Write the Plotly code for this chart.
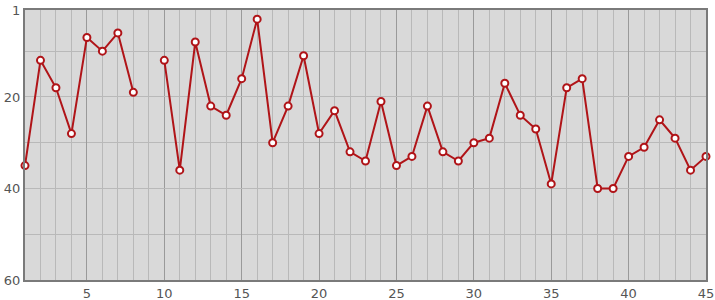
import plotly.graph_objects as go

x_vals = list(range(1, 46))
y_vals = [35, 12, 18, 28, 7, 10, 6, 19, None, 12,
          36, 8, 22, 24, 16, 3, 30, 22, 11, 28,
          23, 32, 34, 21, 35, 33, 22, 32, 34, 30,
          29, 17, 24, 27, 39, 18, 16, 40, 40, 33,
          31, 25, 29, 36, 33]
x_ticks = [5, 10, 15, 20, 25, 30, 35, 40, 45]
y_ticks = [1, 20, 40, 60]
y_minor = [10, 30, 50]

fig = go.Figure()
fig.add_trace(go.Scatter(
    x=x_vals, y=y_vals, mode="lines+markers",
    connectgaps=False,
    line=dict(color="#b01418", width=2),
    marker=dict(size=7, color="white", line=dict(color="#b01418", width=2)),
    showlegend=False, cliponaxis=False,
))

fig.update_layout(
    width=715, height=300,
    margin=dict(l=25, r=9, t=10, b=20, autoexpand=False),
    paper_bgcolor="white", plot_bgcolor="#d9d9d9",
    font=dict(family="DejaVu Sans", size=13, color="#555555"),
    xaxis=dict(
        range=[1, 45], tickmode="array", tickvals=x_ticks, automargin=False,
        showgrid=True, gridcolor="#9a9a9a", gridwidth=1,
        minor=dict(dtick=1, tick0=0, showgrid=True, gridcolor="#b9b9b9", gridwidth=1),
        showline=True, mirror=True, linecolor="#7a7a7a", linewidth=2,
        zeroline=False, ticks="", ticklen=0,
    ),
    yaxis=dict(
        range=[60, 1], tickmode="array", tickvals=y_ticks, automargin=False,
        showgrid=True, gridcolor="#b9b9b9", gridwidth=1,
        minor=dict(tickmode="array", tickvals=y_minor, showgrid=True, gridcolor="#b9b9b9", gridwidth=1),
        showline=True, mirror=True, linecolor="#7a7a7a", linewidth=2,
        zeroline=False, ticks="", ticklen=0,
    ),
)

fig.write_html("out.html")
